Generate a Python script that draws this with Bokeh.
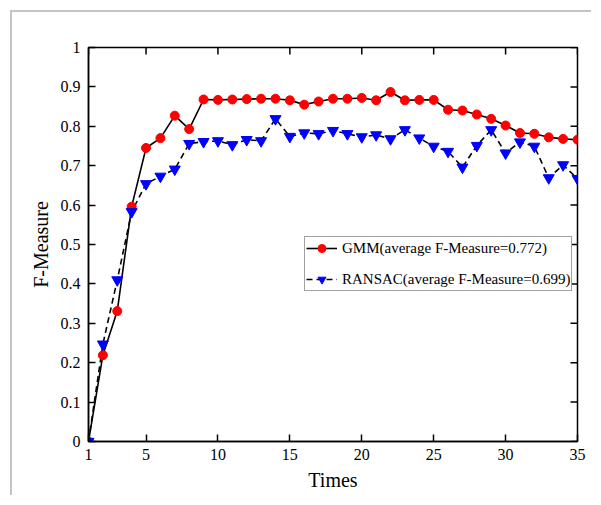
import math
from bokeh.plotting import figure
from bokeh.models import FixedTicker, Legend, LegendItem, Range1d, ColumnDataSource
from bokeh.embed import file_html
from bokeh.resources import INLINE

times = list(range(1, 36))
gmm = [0.0, 0.219, 0.331, 0.596, 0.745, 0.770, 0.827, 0.793, 0.868, 0.867,
       0.868, 0.869, 0.870, 0.870, 0.866, 0.855, 0.863, 0.870, 0.870, 0.872,
       0.866, 0.887, 0.866, 0.867, 0.867, 0.842, 0.840, 0.830, 0.819, 0.802,
       0.783, 0.781, 0.772, 0.768, 0.766]
ransac = [0.0, 0.247, 0.410, 0.583, 0.654, 0.673, 0.691, 0.756, 0.761, 0.763,
          0.753, 0.766, 0.763, 0.819, 0.774, 0.783, 0.781, 0.789, 0.781, 0.773,
          0.778, 0.768, 0.791, 0.770, 0.749, 0.736, 0.696, 0.751, 0.791, 0.732,
          0.760, 0.749, 0.669, 0.702, 0.667]
x_ticks = [1, 5, 10, 15, 20, 25, 30, 35]
y_ticks = [0, 0.1, 0.2, 0.3, 0.4, 0.5, 0.6, 0.7, 0.8, 0.9, 1]
y_tick_labels = ["0", "0.1", "0.2", "0.3", "0.4", "0.5", "0.6", "0.7", "0.8", "0.9", "1"]
gmm_label = "GMM(average F-Measure=0.772)"
ransac_label = "RANSAC(average F-Measure=0.699)"

FONT = "Liberation Serif"
x_min, x_max = 1, 35
y_min, y_max = 0, 1

src = ColumnDataSource(dict(x=times, g=gmm, r=ransac))

p = figure(width=581, height=485, x_range=Range1d(x_min, x_max), y_range=Range1d(y_min, y_max),
           output_backend="svg", toolbar_location=None, margin=(10, 0, 0, 10),
           min_border_left=76, min_border_top=35, min_border_right=16, min_border_bottom=56)
p.styles = {"border-left": "2px solid #c4c4c4", "border-top": "2px solid #c4c4c4"}
p.grid.visible = False
p.outline_line_color = "black"
p.outline_line_width = 1.5
p.background_fill_color = "white"
p.border_fill_color = "white"

for ax in (p.xaxis[0], p.yaxis[0]):
    ax.major_tick_in = 7
    ax.major_tick_out = 0
    ax.minor_tick_in = 0
    ax.minor_tick_out = 0
    ax.major_tick_line_width = 1.5
    ax.axis_line_width = 1.5
    ax.major_label_text_font = FONT
    ax.major_label_text_font_size = "16px"
    ax.major_label_text_color = "black"
    ax.axis_label_text_font = FONT
    ax.axis_label_text_font_size = "20px"
    ax.axis_label_text_font_style = "normal"
    ax.axis_label_text_color = "black"

p.xaxis.ticker = FixedTicker(ticks=x_ticks)
p.xaxis.axis_label = "Times"
p.xaxis.major_label_standoff = 7
p.xaxis.axis_label_standoff = 6
p.yaxis.ticker = FixedTicker(ticks=y_ticks)
p.yaxis.major_label_overrides = {t: l for t, l in zip(y_ticks, y_tick_labels)}
p.yaxis.axis_label = "F-Measure"
p.yaxis.major_label_standoff = 8
p.yaxis.axis_label_standoff = 6

# mirrored inward ticks on the top and right frame edges
p.ray(x=x_ticks, y=[y_max] * len(x_ticks), length=7, length_units="screen",
      angle=-math.pi / 2, line_color="black", line_width=1.5)
p.ray(x=[x_max] * len(y_ticks), y=y_ticks, length=7, length_units="screen",
      angle=math.pi, line_color="black", line_width=1.5)

l1 = p.line("x", "g", source=src, line_color="black", line_width=1.6)
l2 = p.line("x", "r", source=src, line_color="black", line_width=1.6, line_dash="6 4")
s1 = p.scatter("x", "g", source=src, marker="circle", size=9, fill_color="#ff0000", line_color="#ff0000")
s2 = p.scatter("x", "r", source=src, marker="inverted_triangle", size=11, fill_color="#0000ff", line_color="#0000ff")

legend = Legend(items=[LegendItem(label=gmm_label, renderers=[l1, s1]),
                       LegendItem(label=ransac_label, renderers=[l2, s2])],
                location=(216, 150), label_text_font=FONT, label_text_font_size="15px",
                label_text_color="black", glyph_width=31, glyph_height=20, label_height=20,
                label_standoff=5, spacing=11, padding=1, margin=0,
                border_line_color="#444444", border_line_width=1,
                background_fill_alpha=1)
p.add_layout(legend)

open("out.html", "w").write(file_html(p, INLINE))
